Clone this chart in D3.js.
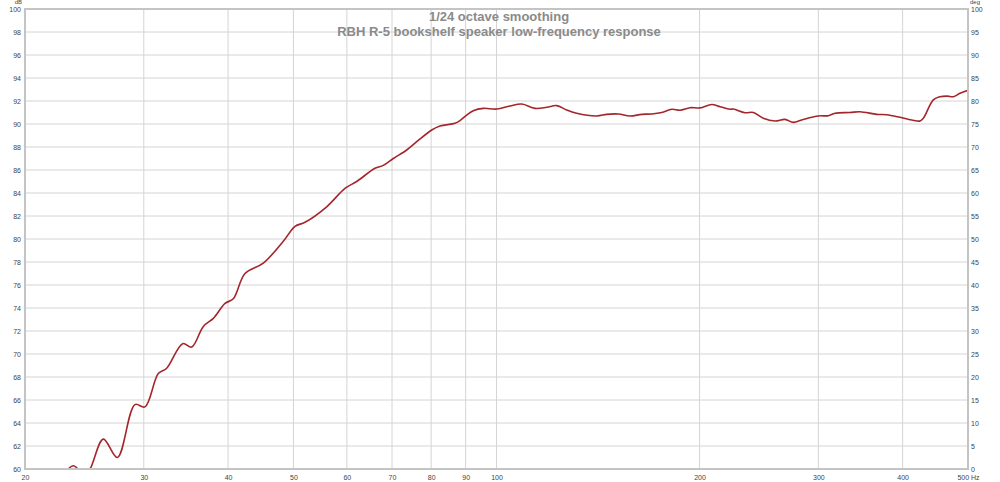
<!DOCTYPE html>
<html>
<head>
<meta charset="utf-8">
<script src="https://cdn.jsdelivr.net/npm/d3@7"></script>
<style>
body{margin:0;background:#fff;}
svg{display:block;font-family:"Liberation Sans",Arial,sans-serif;}
</style>
</head>
<body>
<svg id="chart" width="1000" height="482"></svg>
<script>
var freqHz = [22.4,23.0,23.58,24.1,24.5,25.0,26.13,27.41,29.11,30.12,31.52,32.44,34.26,35.33,36.76,38.04,39.59,40.72,42.38,45.11,48.3,50.27,52.01,56.01,59.62,62.05,66.05,67.95,70.31,73.6,76.16,80.16,82.46,86.8,88.29,90.33,92.39,95.6,100.07,104.7,109.0,114.05,118.7,122.8,127.1,131.5,140.8,145.7,151.6,157.7,164.2,169.9,175.8,181.9,187.1,193.6,200.3,208.5,214.5,221.9,224.4,233.6,240.3,248.6,258.7,267.7,275.4,285.0,300.0,310.4,317.6,334.2,345.8,366.1,378.8,396.4,412.6,424.5,429.3,444.2,454.4,466.0,475.6,486.6,500];
var splDb = [59.2,59.8,60.28,59.85,59.4,60.05,62.6,61.0,65.6,65.4,68.3,68.76,70.9,70.6,72.4,73.1,74.4,74.8,77.0,77.9,79.8,81.1,81.45,82.8,84.4,85.0,86.15,86.4,87.0,87.74,88.46,89.48,89.83,90.06,90.3,90.78,91.16,91.36,91.3,91.57,91.74,91.36,91.45,91.6,91.22,90.93,90.7,90.84,90.87,90.7,90.84,90.87,91.0,91.28,91.2,91.42,91.4,91.7,91.5,91.28,91.3,90.98,91.0,90.5,90.26,90.4,90.14,90.4,90.7,90.72,90.93,91.0,91.07,90.84,90.8,90.58,90.35,90.26,90.5,92.1,92.37,92.42,92.37,92.67,92.93];

var freqTicks = [20,30,40,50,60,70,80,90,100,200,300,400,500];
var freqLabels = ["20","30","40","50","60","70","80","90","100","200","300","400","500 Hz"];
var dbTicks = [60,62,64,66,68,70,72,74,76,78,80,82,84,86,88,90,92,94,96,98,100];
var degTicks = [0,5,10,15,20,25,30,35,40,45,50,55,60,65,70,75,80,85,90,95,100];
var titleLines = ["1/24 octave smoothing","RBH R-5 bookshelf speaker low-frequency response"];

var margin = {left:25,right:32,top:9,bottom:13};
var W = 1000, H = 482;
var svg = d3.select("#chart");

var x = d3.scaleLog()
.domain([20,500])
.range([margin.left, W-margin.right]);
var y = d3.scaleLinear()
.domain([60,100])
.range([H-margin.bottom, margin.top]);
var yDeg = d3.scaleLinear()
.domain([0,100])
.range([H-margin.bottom, margin.top]);

// grid
svg.append("g")
.selectAll("line")
.data(dbTicks)
.enter()
.append("line")
.attr("x1",margin.left).attr("x2",W-margin.right)
.attr("y1",function(d){return y(d);}).attr("y2",function(d){return y(d);})
.attr("stroke","#d4d4d4").attr("stroke-width",1);

svg.append("g")
.selectAll("line")
.data(freqTicks)
.enter()
.append("line")
.attr("x1",function(d){return x(d);}).attr("x2",function(d){return x(d);})
.attr("y1",margin.top).attr("y2",H-margin.bottom)
.attr("stroke","#d4d4d4").attr("stroke-width",1);

// title
svg.append("g")
.selectAll("text")
.data(titleLines)
.enter()
.append("text")
.attr("x",499)
.attr("y",function(d,i){return 21+14.5*i;})
.attr("text-anchor","middle")
.attr("font-size","13px")
.attr("font-weight","bold")
.attr("fill","#8a8a8a")
.text(function(d){return d;});

// curve
svg.append("clipPath").attr("id","plotclip")
.append("rect")
.attr("x",margin.left).attr("y",margin.top)
.attr("width",W-margin.left-margin.right)
.attr("height",H-margin.top-margin.bottom);

var line = d3.line()
.x(function(d){return x(d[0]);})
.y(function(d){return y(d[1]);})
.curve(d3.curveCatmullRom.alpha(0.5));

svg.append("path")
.datum(d3.zip(freqHz,splDb))
.attr("clip-path","url(#plotclip)")
.attr("d",line)
.attr("fill","none")
.attr("stroke","#a3262b")
.attr("stroke-width",1.6);

// frame
svg.append("rect")
.attr("x",margin.left).attr("y",margin.top)
.attr("width",W-margin.left-margin.right)
.attr("height",H-margin.top-margin.bottom)
.attr("fill","none")
.attr("stroke","#c4c4c4")
.attr("stroke-width",2);

// axes
function styleTicks(sel){
	sel.attr("font-size","7px").attr("fill","#444")
	.attr("font-family","'Liberation Sans',Arial,sans-serif");
}

var leftAxis = d3.axisLeft(y).tickValues(dbTicks).tickSize(0).tickPadding(3);
svg.append("g")
.attr("transform","translate("+(margin.left-1)+",0)")
.call(leftAxis)
.call(function(g){g.select(".domain").remove();})
.selectAll("text")
.attr("dy","0.4em")
.call(styleTicks);

var rightAxis = d3.axisRight(yDeg).tickValues(degTicks).tickSize(0).tickPadding(3);
svg.append("g")
.attr("transform","translate("+(W-margin.right)+",0)")
.call(rightAxis)
.call(function(g){g.select(".domain").remove();})
.selectAll("text")
.attr("dy","0.4em")
.call(styleTicks);

var bottomAxis = d3.axisBottom(x).tickValues(freqTicks).tickSize(0).tickPadding(6)
.tickFormat(function(d,i){return freqLabels[i];});
svg.append("g")
.attr("transform","translate(0,"+(H-margin.bottom)+")")
.call(bottomAxis)
.call(function(g){g.select(".domain").remove();})
.selectAll("text")
.call(styleTicks);

svg.append("text")
.attr("x",margin.left-3).attr("y",4)
.attr("text-anchor","end")
.attr("font-size","6px").attr("fill","#444")
.text("dB");

svg.append("text")
.attr("x",W-margin.right+2).attr("y",4)
.attr("font-size","6px").attr("fill","#444")
.text("deg");
</script>
</body>
</html>
